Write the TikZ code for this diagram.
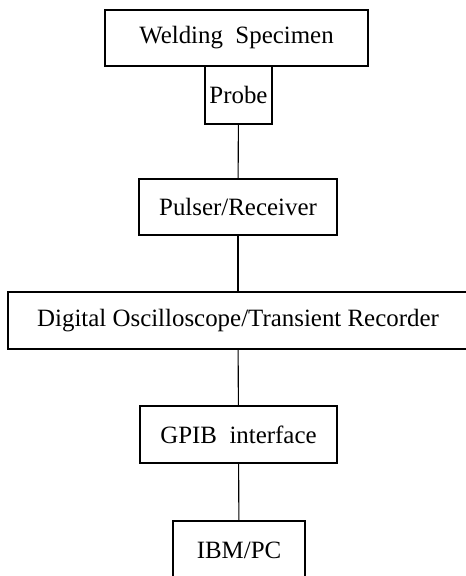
\documentclass[tikz,border=0pt]{standalone}
\usepackage{fontspec}
\setmainfont{Liberation Serif}
\usepackage{tikz}

\begin{document}
\begin{tikzpicture}[x=1bp,y=-1bp,
        box/.style={draw, line width=1.3pt, inner sep=0pt, align=center,
            font=\fontsize{25}{30}\selectfont},
        link/.style={line width=1.1pt}]
        % Page frame
        \useasboundingbox (0,0) rectangle (466,576);
        \clip (0,0) rectangle (466,576);

        % Blocks
        \node[box, minimum width=263bp, minimum height=56bp] (spec) at (236.5,38) {Welding\ \ Specimen};
        \node[box, minimum width=67bp, minimum height=58bp] (probe) at (238.5,95) {Probe};
        \node[box, minimum width=198bp, minimum height=56bp] (pulser) at (238,207) {Pulser/Receiver};
        \node[box, minimum width=460bp, minimum height=57bp] (dso) at (238,320.5) {Digital\ Oscilloscope/Transient\ Recorder};
        \node[box, minimum width=197bp, minimum height=57bp] (gpib) at (238.5,434.5) {GPIB\ \ interface};
        \node[box, minimum width=132bp, minimum height=58bp] (pc) at (239,550) {IBM/PC};

        % Links
        \draw[link] (probe) -- (pulser);
        \draw[link] (pulser) -- (dso);
        \draw[link] (dso) -- (gpib);
        \draw[link] (gpib) -- (pc);
    \end{tikzpicture}
\end{document}
